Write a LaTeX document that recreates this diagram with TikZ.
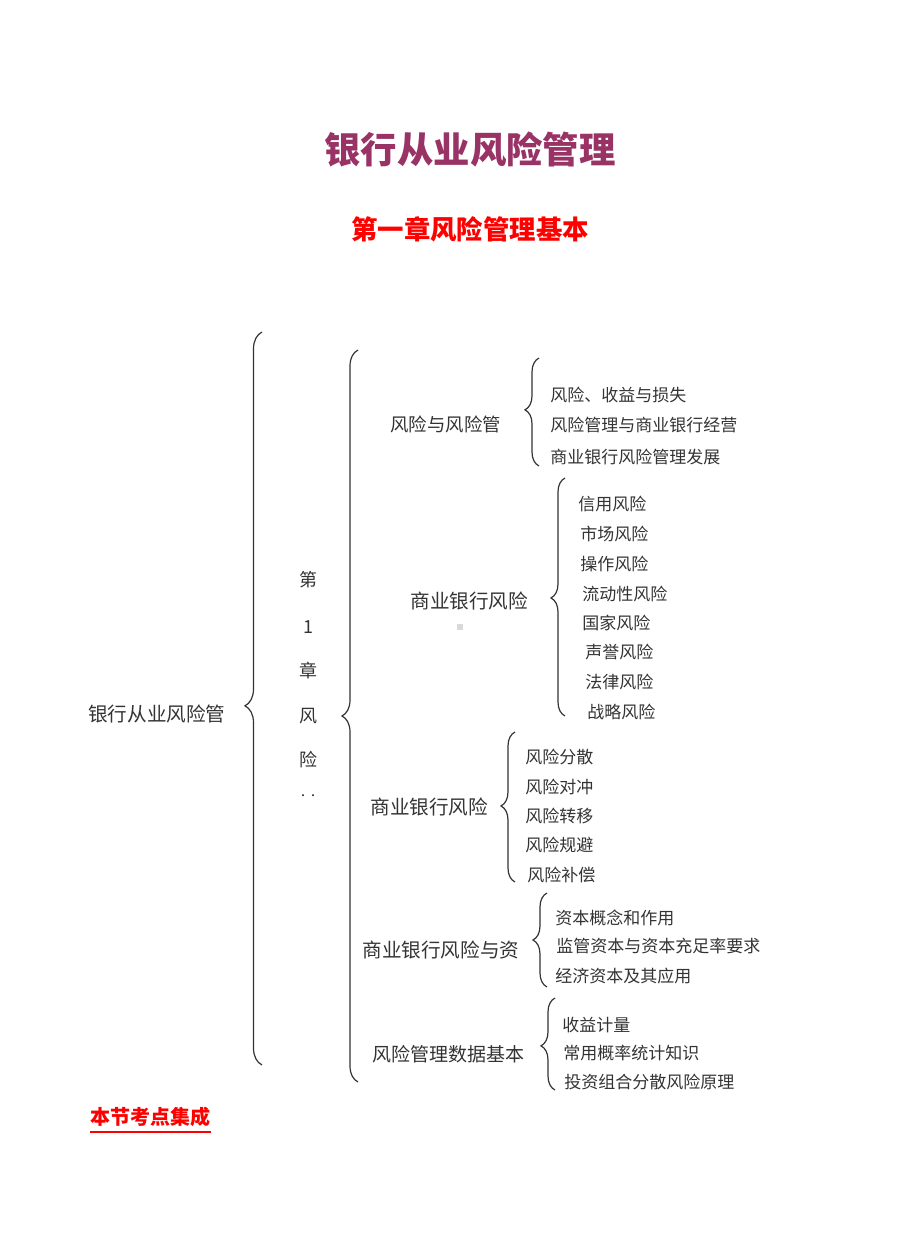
\documentclass[tikz,border=0pt]{standalone}
\usepackage{fontspec}
\newfontfamily\cjk{Noto Sans CJK SC}
\usetikzlibrary{decorations.pathreplacing}
\definecolor{ttl}{HTML}{993366}
\definecolor{txt}{HTML}{333333}
\begin{document}
\begin{tikzpicture}[x=0.5pt,y=0.5pt,
  lbl/.style={font=\cjk\fontsize{9.8pt}{12pt}\selectfont, text=txt, inner sep=0pt, anchor=west},
  itm/.style={font=\cjk\fontsize{8.5pt}{10pt}\selectfont, text=txt, inner sep=0pt, anchor=west},
  vch/.style={font=\cjk\fontsize{9pt}{10pt}\selectfont, text=txt, inner sep=0pt},
  brc/.style={decorate, draw=black!80, line width=0.6pt, decoration={brace, amplitude=#1}},
  brc/.default=7pt]
\useasboundingbox (0,0) rectangle (920,-1260);
% titles
\node[font=\cjk\bfseries\fontsize{18.2pt}{20pt}\selectfont, text=ttl, inner sep=0pt] (title) at (470,-150) {银行从业风险管理};
\node[font=\cjk\bfseries\fontsize{13.2pt}{15pt}\selectfont, text=red, inner sep=0pt] (sub) at (470,-229) {第一章风险管理基本};
% root
\node[lbl] (root) at (88,-714) {银行从业风险管};
\coordinate (b1s) at (262,-1065);
\coordinate (b1e) at (262,-332);
\draw[brc={8.5pt}, decoration={aspect=0.49}] (b1s) -- (b1e);
% vertical chapter text
\node[vch] (v1) at (308,-580) {第};
\node[vch] (v2) at (308,-627) {1};
\node[vch] (v3) at (308,-671) {章};
\node[vch] (v4) at (308,-716) {风};
\node[vch] (v5) at (308,-760) {险};
\node[vch, font=\cjk\fontsize{5pt}{6pt}\selectfont] (v6) at (308,-797) {··};
\coordinate (b2s) at (358,-1082);
\coordinate (b2e) at (358,-350);
\draw[brc={8pt}, decoration={aspect=0.5}] (b2s) -- (b2e);
% group 1
\node[lbl, font=\cjk\fontsize{9.2pt}{11pt}\selectfont] (g1) at (390,-424) {风险与风险管};
\coordinate (g1s) at (539,-466);
\coordinate (g1e) at (539,-358);
\draw[brc, decoration={aspect=0.52}] (g1s) -- (g1e);
\node[itm] (g1a) at (550,-395) {风险、收益与损失};
\node[itm] (g1b) at (550,-425) {风险管理与商业银行经营};
\node[itm] (g1c) at (550,-457) {商业银行风险管理发展};
% group 2
\node[lbl] (g2) at (410,-601) {商业银行风险};
\node[fill=black!15, minimum size=3pt, inner sep=0pt] (sq) at (460,-627) {};
\coordinate (g2s) at (565,-716);
\coordinate (g2e) at (565,-478);
\draw[brc, decoration={aspect=0.496}] (g2s) -- (g2e);
\node[itm] (g2a) at (578,-504) {信用风险};
\node[itm] (g2b) at (580,-534) {市场风险};
\node[itm] (g2c) at (580,-564) {操作风险};
\node[itm] (g2d) at (582,-594) {流动性风险};
\node[itm] (g2e) at (582,-623) {国家风险};
\node[itm] (g2f) at (585,-652) {声誉风险};
\node[itm] (g2g) at (585,-682) {法律风险};
\node[itm] (g2h) at (587,-712) {战略风险};
% group 3
\node[lbl] (g3) at (370,-807) {商业银行风险};
\coordinate (g3s) at (515,-882);
\coordinate (g3e) at (515,-732);
\draw[brc, decoration={aspect=0.507}] (g3s) -- (g3e);
\node[itm] (g3a) at (525,-757) {风险分散};
\node[itm] (g3b) at (525,-787) {风险对冲};
\node[itm] (g3c) at (525,-816) {风险转移};
\node[itm] (g3d) at (525,-845) {风险规避};
\node[itm] (g3e) at (527,-875) {风险补偿};
% group 4
\node[lbl] (g4) at (362,-950) {商业银行风险与资};
\coordinate (g4s) at (547,-987);
\coordinate (g4e) at (547,-893);
\draw[brc, decoration={aspect=0.5}] (g4s) -- (g4e);
\node[itm] (g4a) at (555,-918) {资本概念和作用};
\node[itm] (g4b) at (556,-946) {监管资本与资本充足率要求};
\node[itm] (g4c) at (555,-976) {经济资本及其应用};
% group 5
\node[lbl, font=\cjk\fontsize{9.5pt}{11pt}\selectfont] (g5) at (372,-1054) {风险管理数据基本};
\coordinate (g5s) at (555,-1090);
\coordinate (g5e) at (555,-998);
\draw[brc, decoration={aspect=0.48}] (g5s) -- (g5e);
\node[itm] (g5a) at (562,-1025) {收益计量};
\node[itm] (g5b) at (563,-1053) {常用概率统计知识};
\node[itm] (g5c) at (564,-1082) {投资组合分散风险原理};
% footer
\node[font=\cjk\bfseries\fontsize{10pt}{12pt}\selectfont, text=red, inner sep=0pt, anchor=west] (foot) at (90,-1117) {本节考点集成};
\draw[red, line width=0.8pt] ([yshift=-2.5pt]foot.south west) -- ([yshift=-2.5pt]foot.south east);
\end{tikzpicture}
\end{document}
